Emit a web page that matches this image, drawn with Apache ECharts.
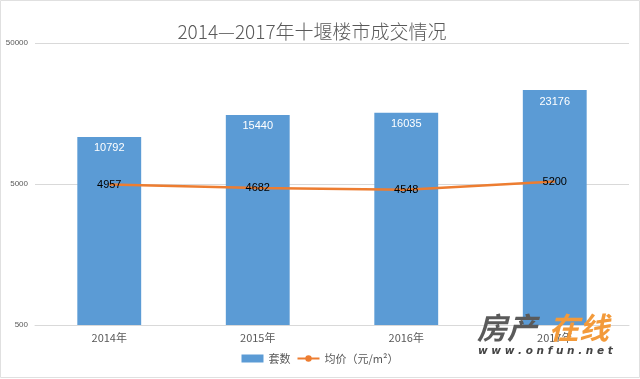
<!DOCTYPE html>
<html><head><meta charset="utf-8">
<script src="https://cdn.jsdelivr.net/npm/echarts@6/dist/echarts.min.js"></script>
<style>html,body{margin:0;padding:0;background:#fff}#c{width:640px;height:379px}</style>
</head><body><div id="c"></div>
<script>
const categories = ['2014年', '2015年', '2016年', '2017年'];
const units = [10792, 15440, 16035, 23176];
const avgPrice = [4957, 4682, 4548, 5200];
const yTicks = [500, 5000, 50000];

const chart = echarts.init(document.getElementById('c'));
chart.setOption({
  backgroundColor: '#fff',
  animation: false,
  title: {
    text: '2014—2017年十堰楼市成交情况',
    left: 307, top: 17, textAlign: 'center',
    textStyle: { fontFamily: 'Noto Sans CJK SC', fontWeight: 300, fontSize: 19, color: '#595959' }
  },
  legend: {
    bottom: 10, left: 'center', itemGap: 6, itemWidth: 22, itemHeight: 8,
    textStyle: { fontFamily: 'Noto Sans CJK SC', fontSize: 11, color: '#595959' },
    data: [{ name: '套数', icon: 'rect' }, { name: '均价（元/m²）' }]
  },
  grid: { left: 35, right: 11, top: 43, bottom: 54 },
  xAxis: {
    type: 'category', data: categories,
    axisLine: { lineStyle: { color: '#d9d9d9' } },
    axisTick: { show: false },
    axisLabel: { color: '#595959', fontSize: 11, fontFamily: 'Noto Sans CJK SC', margin: 7 }
  },
  yAxis: {
    type: 'log', logBase: 10, min: 500, max: 50000,
    axisLine: { show: false }, axisTick: { show: false, customValues: yTicks },
    axisLabel: { color: '#595959', fontSize: 8, fontFamily: 'Liberation Sans', margin: 7, customValues: yTicks,
      formatter: v => String(Math.round(v)) },
    splitLine: { lineStyle: { color: '#d9d9d9' } }
  },
  series: [
    {
      name: '套数', type: 'bar', data: units, barWidth: '43%',
      itemStyle: { color: '#5B9BD5' },
      label: { show: true, position: 'insideTop', distance: 6, color: '#fff', fontSize: 11, fontFamily: 'Liberation Sans' }
    },
    {
      name: '均价（元/m²）', type: 'line', data: avgPrice,
      showSymbol: true, symbol: 'circle', symbolSize: 0.01,
      lineStyle: { color: '#ED7D31', width: 2.5 }, itemStyle: { color: '#ED7D31' },
      label: { show: true, position: 'inside', color: '#000', fontSize: 11, fontFamily: 'Liberation Sans' }
    }
  ],
  graphic: [
    { type: 'rect', shape: { x: 0.5, y: 0.5, width: 639, height: 377 }, style: { fill: 'none', stroke: '#e0e0e0', lineWidth: 1 }, silent: true },
    { type: 'text', left: 477, top: 313, style: { text: '房产', font: 'italic bold 30px "Noto Sans CJK SC"', fill: '#5a5a5a' }, z: 100 },
    { type: 'text', left: 549, top: 313, style: { text: '在线', font: 'italic bold 30px "Noto Sans CJK SC"', fill: '#F39A3A' }, z: 100 },
    { type: 'text', left: 478, top: 346, style: { text: 'w w w . o n f u n . n e t', font: 'italic bold 10.5px "DejaVu Sans"', fill: '#444' }, z: 100 }
  ]
});
</script></body></html>
